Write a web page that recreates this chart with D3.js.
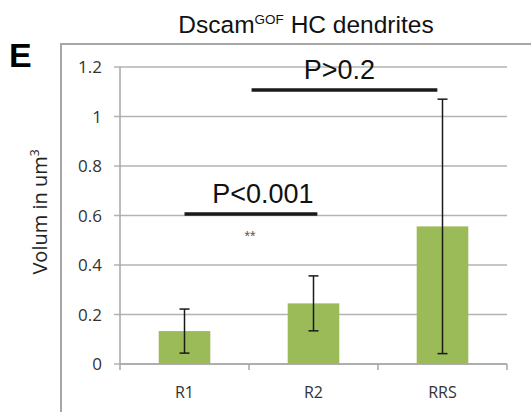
<!DOCTYPE html>
<html>
<head>
<meta charset="utf-8">
<script src="https://cdn.jsdelivr.net/npm/d3@7"></script>
<style>
  body { margin: 0; background: #fff; }
  svg { display: block; }
</style>
</head>
<body>
<div id="chart"></div>
<script>
// data
const categories = ["R1", "R2", "RRS"];
const means = [0.133, 0.245, 0.556];
const errors = [0.089, 0.111, 0.514];
const yTicks = [0, 0.2, 0.4, 0.6, 0.8, 1, 1.2];
// significance bars: start/end in category-index units, height in data units
const sigLabels = ["P<0.001", "P>0.2"];
const sigFrom = [0, 0.52];
const sigTo = [1.03, 1.96];
const sigLevel = [0.606, 1.107];

const width = 531, height = 412;

let svg = d3.select("#chart")
  .append("svg")
  .attr("width", width)
  .attr("height", height);

// outer frame (cut off at right and bottom)
svg.append("rect")
  .attr("x", 61).attr("y", 44)
  .attr("width", 500).attr("height", 400)
  .attr("fill", "none")
  .attr("stroke", "#a6a6a6")
  .attr("stroke-width", 2);

let x = d3.scaleBand()
  .domain(categories)
  .range([120, 507])
  .paddingInner(0.6)
  .paddingOuter(0.3);

let y = d3.scaleLinear()
  .domain([0, 1.2])
  .range([364, 67]);

let step = x.step();
let xIdx = d3.scaleLinear().domain([0, 1]).range([120 + step / 2, 120 + step * 1.5]);

// gridlines + y ticks
svg.append("g")
  .selectAll("line")
  .data(yTicks)
  .enter()
  .append("line")
    .attr("x1", 114).attr("x2", 507)
    .attr("y1", d => y(d)).attr("y2", d => y(d))
    .attr("stroke", "#b3b3b3")
    .attr("stroke-width", 1.5);

svg.append("g")
  .selectAll("text")
  .data(yTicks)
  .enter()
  .append("text")
    .attr("x", 102)
    .attr("y", d => y(d) + 6)
    .attr("text-anchor", "end")
    .style("font-family", "'Open Sans', sans-serif")
    .style("font-size", "17px")
    .style("fill", "#333")
    .text(d => d);

// axes lines
svg.append("line")
  .attr("x1", 120).attr("x2", 120)
  .attr("y1", y(1.2)).attr("y2", 370)
  .attr("stroke", "#a6a6a6").attr("stroke-width", 1.5);

svg.append("line")
  .attr("x1", 120).attr("x2", 507)
  .attr("y1", y(0)).attr("y2", y(0))
  .attr("stroke", "#a6a6a6").attr("stroke-width", 1.5);

// category boundary ticks
svg.append("g")
  .selectAll("line")
  .data(categories)
  .enter()
  .append("line")
    .attr("x1", d => x(d) - x.paddingOuter() * step + step)
    .attr("x2", d => x(d) - x.paddingOuter() * step + step)
    .attr("y1", y(0)).attr("y2", y(0) + 6)
    .attr("stroke", "#a6a6a6").attr("stroke-width", 1.5);

svg.append("g")
  .selectAll("text")
  .data(categories)
  .enter()
  .append("text")
    .attr("x", d => x(d) + x.bandwidth() / 2)
    .attr("y", 398)
    .attr("text-anchor", "middle")
    .style("font-family", "'Open Sans', sans-serif")
    .style("font-size", "16px")
    .style("fill", "#333")
    .text(d => d);

// bars
svg.append("g")
  .selectAll("rect")
  .data(categories)
  .enter()
  .append("rect")
    .attr("x", d => x(d))
    .attr("width", x.bandwidth())
    .attr("y", (d, i) => y(means[i]))
    .attr("height", (d, i) => y(0) - y(means[i]))
    .attr("fill", "#9bbb59");

// error bars
let eb = svg.append("g")
  .selectAll("g")
  .data(categories)
  .enter()
  .append("g")
  .attr("stroke", "#1a1a1a")
  .attr("stroke-width", 1.5);

eb.append("line")
  .attr("x1", d => x(d) + x.bandwidth() / 2)
  .attr("x2", d => x(d) + x.bandwidth() / 2)
  .attr("y1", (d, i) => y(means[i] + errors[i]))
  .attr("y2", (d, i) => y(means[i] - errors[i]));

eb.append("line")
  .attr("x1", d => x(d) + x.bandwidth() / 2 - 5)
  .attr("x2", d => x(d) + x.bandwidth() / 2 + 5)
  .attr("y1", (d, i) => y(means[i] + errors[i]))
  .attr("y2", (d, i) => y(means[i] + errors[i]));

eb.append("line")
  .attr("x1", d => x(d) + x.bandwidth() / 2 - 5)
  .attr("x2", d => x(d) + x.bandwidth() / 2 + 5)
  .attr("y1", (d, i) => y(means[i] - errors[i]))
  .attr("y2", (d, i) => y(means[i] - errors[i]));

// significance annotations
svg.append("g")
  .selectAll("line")
  .data(sigLabels)
  .enter()
  .append("line")
    .attr("x1", (d, i) => xIdx(sigFrom[i]))
    .attr("x2", (d, i) => xIdx(sigTo[i]))
    .attr("y1", (d, i) => y(sigLevel[i]))
    .attr("y2", (d, i) => y(sigLevel[i]))
    .attr("stroke", "#1a1a1a")
    .attr("stroke-width", 3.5);

svg.append("g")
  .selectAll("text")
  .data(sigLabels)
  .enter()
  .append("text")
    .attr("x", (d, i) => (xIdx(sigFrom[i]) + xIdx(sigTo[i])) / 2 + (i === 0 ? 12 : -5))
    .attr("y", (d, i) => y(sigLevel[i]) - 11)
    .attr("text-anchor", "middle")
    .style("font-family", "'Liberation Sans', Arial, sans-serif")
    .style("font-size", "27px")
    .style("fill", "#111")
    .text(d => d);

svg.append("text")
  .attr("x", 250)
  .attr("y", 241)
  .attr("text-anchor", "middle")
  .style("font-family", "'Liberation Sans', Arial, sans-serif")
  .style("font-size", "14px")
  .style("fill", "#555")
  .text("**");

// title
let title = svg.append("text")
  .attr("x", 306)
  .attr("y", 33)
  .attr("text-anchor", "middle")
  .style("font-family", "'Liberation Sans', Arial, sans-serif")
  .style("font-size", "24.5px")
  .style("fill", "#111");
title.append("tspan").text("Dscam");
title.append("tspan").attr("dy", -9).style("font-size", "13.5px").text("GOF");
title.append("tspan").attr("dy", 9).text(" HC dendrites");

// panel letter
svg.append("text")
  .attr("x", 9)
  .attr("y", 67)
  .style("font-family", "'Liberation Sans', Arial, sans-serif")
  .style("font-size", "34px")
  .style("font-weight", "bold")
  .style("fill", "#000")
  .text("E");

// y axis label
let ylab = svg.append("text")
  .attr("transform", "translate(47,212) rotate(-90)")
  .attr("text-anchor", "middle")
  .style("font-family", "'Open Sans', sans-serif")
  .style("font-size", "20px")
  .style("fill", "#222");
ylab.append("tspan").text("Volum in  um");
ylab.append("tspan").attr("dy", -8).style("font-size", "12px").text("3");
</script>
</body>
</html>
